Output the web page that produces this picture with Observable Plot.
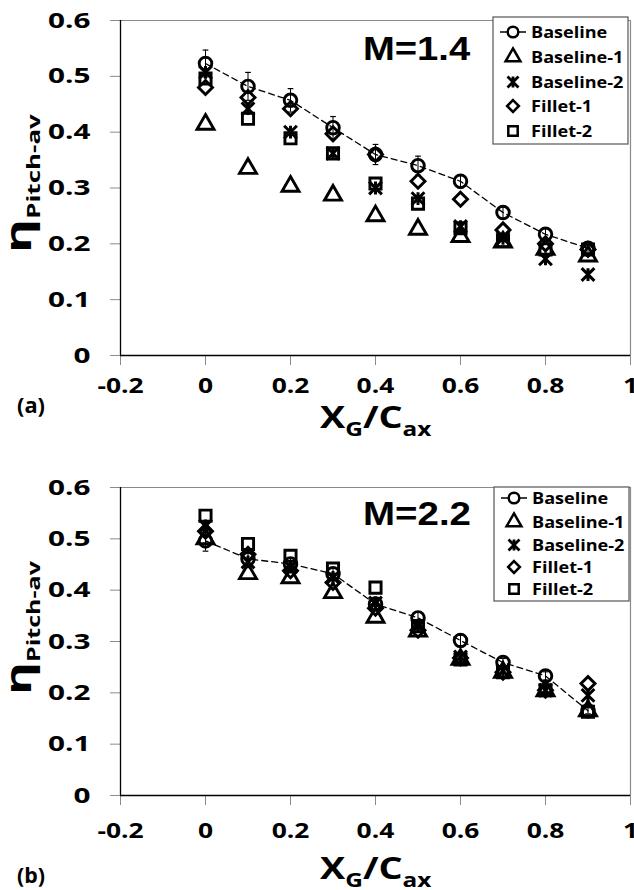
<!DOCTYPE html>
<html><head><meta charset="utf-8">
<script src="https://cdn.jsdelivr.net/npm/d3@7"></script>
<script src="https://cdn.jsdelivr.net/npm/@observablehq/plot@0.6"></script>
<style>
body{margin:0;background:#fff;}
#fig{position:relative;width:634px;height:890px;overflow:hidden;background:#fff;}
#fig svg{display:block;}
g[aria-label="x-axis tick"], g[aria-label="y-axis tick"]{stroke:#8a8a8a;}
</style></head><body><div id="fig"></div>
<script>
// ---------- data ----------
const xPos = [0, 0.1, 0.2, 0.3, 0.4, 0.5, 0.6, 0.7, 0.8, 0.9];
const seriesNames = ["Baseline", "Baseline-1", "Baseline-2", "Fillet-1", "Fillet-2"];
const xTicks = [-0.2, 0, 0.2, 0.4, 0.6, 0.8, 1];
const yTicks = [0, 0.1, 0.2, 0.3, 0.4, 0.5, 0.6];

// (a) M = 1.4
const baselineM14  = [0.523, 0.482, 0.457, 0.408, 0.360, 0.340, 0.312, 0.256, 0.217, 0.192];
const baselineErrM14 = [0.024, 0.025, 0.021, 0.020, 0.018, 0.017, 0.012, 0.010, 0.010, 0.008];
const baseline1M14 = [0.414, 0.335, 0.303, 0.287, 0.250, 0.226, 0.213, 0.203, 0.190, 0.178];
const baseline2M14 = [0.507, 0.442, 0.400, 0.362, 0.300, 0.281, 0.231, 0.210, 0.173, 0.145];
const fillet1M14   = [0.480, 0.462, 0.442, 0.397, 0.360, 0.312, 0.280, 0.225, 0.200, 0.190];
const fillet2M14   = [0.496, 0.424, 0.389, 0.362, 0.308, 0.272, 0.228, 0.205, 0.190, 0.190];

// (b) M = 2.2
const baselineM22  = [0.496, 0.461, 0.451, 0.432, 0.373, 0.346, 0.302, 0.259, 0.233, 0.165];
const baselineErrM22 = [0.020, 0.015, 0.012, 0.012, 0.010, 0.012, 0.010, 0.008, 0.008, 0.006];
const baseline1M22 = [0.500, 0.432, 0.424, 0.395, 0.347, 0.320, 0.265, 0.240, 0.204, 0.165];
const baseline2M22 = [0.525, 0.455, 0.445, 0.425, 0.375, 0.330, 0.270, 0.243, 0.205, 0.195];
const fillet1M22   = [0.515, 0.470, 0.438, 0.415, 0.365, 0.322, 0.268, 0.240, 0.205, 0.218];
const fillet2M22   = [0.545, 0.490, 0.467, 0.442, 0.405, 0.330, 0.265, 0.240, 0.205, 0.163];

// ---------- helpers ----------
const SVGNS = "http://www.w3.org/2000/svg";
const fmt = d => d === 0 ? "0" : d === 1 ? "1" : d3.format(".1f")(d).replace("\u2212", "-");
const capSymbol = {draw(ctx, size) { const w = Math.sqrt(size) / 2; ctx.moveTo(-w, 0); ctx.lineTo(w, 0); }};
// Excel-style "star" marker: an X plus a vertical bar
const starSymbol = {draw(ctx, size) {
  const w = Math.sqrt(size) / 2;
  ctx.moveTo(-w, -w); ctx.lineTo(w, w);
  ctx.moveTo(-w, w); ctx.lineTo(w, -w);
  ctx.moveTo(0, -w); ctx.lineTo(0, w);
}};
const symbolRange = [d3.symbolCircle, d3.symbolTriangle, starSymbol, d3.symbolDiamond2, d3.symbolSquare];
const TXT = "'Open Sans', 'DejaVu Sans', sans-serif";

function stretch(t, s, anchor) {
  const b = t.getBBox();
  const ax = anchor === "end" ? b.x + b.width : anchor === "start" ? b.x : b.x + b.width / 2;
  const prev = t.getAttribute("transform") || "";
  t.setAttribute("transform", `${prev} translate(${ax},0) scale(${s},1) translate(${-ax},0)`);
}
function stretchTo(t, width, anchor) {
  const b = t.getBBox();
  stretch(t, width / b.width, anchor);
}
function addText(svg, x, y, str, size, family) {
  const t = document.createElementNS(SVGNS, "text");
  t.setAttribute("x", x); t.setAttribute("y", y);
  t.setAttribute("font-family", family); t.setAttribute("font-weight", "700");
  t.setAttribute("font-size", size); t.setAttribute("fill", "#000");
  t.setAttribute("text-anchor", "start");
  t.textContent = str;
  svg.appendChild(t);
  return t;
}
function addSubText(svg, parts, attrs) {
  const t = document.createElementNS(SVGNS, "text");
  for (const k in attrs) t.setAttribute(k, attrs[k]);
  t.setAttribute("font-family", TXT); t.setAttribute("font-weight", "700"); t.setAttribute("fill", "#000");
  t.setAttribute("text-anchor", "start");
  for (const p of parts) {
    const s = document.createElementNS(SVGNS, "tspan");
    s.setAttribute("font-size", p.size);
    if (p.dy) s.setAttribute("dy", p.dy);
    s.textContent = p.text;
    t.appendChild(s);
  }
  svg.appendChild(t);
  return t;
}

function panel(cfg) {
  const rows = [];
  cfg.series.forEach((vals, i) => vals.forEach((v, j) => rows.push({x: xPos[j], y: v, series: seriesNames[i]})));
  const base = cfg.series[0].map((v, j) => ({x: xPos[j], y: v, e: cfg.err[j]}));
  const stars = rows.filter(d => d.series === "Baseline-2");
  return Plot.plot({
    width: 634, height: 445,
    marginLeft: 120, marginRight: 4, marginTop: cfg.mt, marginBottom: cfg.mb,
    style: {fontFamily: TXT, fontSize: "22px", fontWeight: "700", color: "#000", background: "#fff", overflow: "visible"},
    x: {domain: [-0.2, 1], ticks: xTicks, tickFormat: fmt, tickSize: 10, tickPadding: cfg.xpad, label: null},
    y: {domain: [0, 0.6], ticks: yTicks, tickFormat: fmt, tickSize: 10, tickPadding: 20, label: null},
    symbol: {domain: seriesNames, range: symbolRange},
    marks: [
      Plot.ruleY([0.6], {stroke: "#8a8a8a", strokeWidth: 1.2}),
      Plot.ruleX([1], {stroke: "#8a8a8a", strokeWidth: 1.2}),
      Plot.ruleX([-0.2], {stroke: "#000", strokeWidth: 1.3}),
      Plot.ruleY([0], {stroke: "#000", strokeWidth: 1.3}),
      Plot.line(base, {x: "x", y: "y", stroke: "#000", strokeWidth: 1.3, strokeDasharray: "6,4"}),
      Plot.ruleX(base, {x: "x", y1: d => d.y - d.e, y2: d => d.y + d.e, stroke: "#000", strokeWidth: 1}),
      Plot.dot(base, {x: "x", y: d => d.y + d.e, symbol: capSymbol, r: 3.2, stroke: "#000", strokeWidth: 1.2}),
      Plot.dot(base, {x: "x", y: d => d.y - d.e, symbol: capSymbol, r: 3.2, stroke: "#000", strokeWidth: 1.2}),
      Plot.dot(rows.filter(d => d.series !== "Baseline-2"), {x: "x", y: "y", symbol: "series", r: 6.3, stroke: "#000", strokeWidth: 2.9, fill: "none"}),
      Plot.dot(stars, {x: "x", y: "y", symbol: "series", r: 7.2, stroke: "#000", strokeWidth: 3, fill: "none"})
    ]
  });
}

function legend(svg, x0, y0, w, h, rowY) {
  const g = d3.select(svg).append("g");
  g.append("rect").attr("x", x0).attr("y", y0).attr("width", w).attr("height", h)
    .attr("fill", "#fff").attr("stroke", "#555").attr("stroke-width", 1.2);
  const sizes = [5.3, 5.5, 6.2, 5.3, 5.3];
  const sx = x0 + 20;
  seriesNames.forEach((name, i) => {
    const y = rowY[i];
    if (i === 0) g.append("line").attr("x1", sx - 13).attr("x2", sx + 13).attr("y1", y).attr("y2", y)
      .attr("stroke", "#000").attr("stroke-width", 1.5);
    g.append("path").attr("d", d3.symbol(symbolRange[i], Math.PI * sizes[i] * sizes[i])()).attr("transform", `translate(${sx},${y})`)
      .attr("fill", i === 0 ? "#fff" : "none").attr("stroke", "#000").attr("stroke-width", i === 2 ? 2.8 : 2.5);
    const t = addText(g.node(), x0 + 38, y + 6, name, 16, TXT);
    stretch(t, 1.13, "start");
  });
}

function decorate(svg, cfg) {
  svg.querySelectorAll('g[aria-label="y-axis tick label"] text').forEach(t => stretch(t, 1.35, "end"));
  svg.querySelectorAll('g[aria-label="x-axis tick label"] text').forEach(t => stretch(t, 1.2, "middle"));
  const title = addText(svg, 363, cfg.titleY, cfg.title, 33, "'Liberation Sans', Arial, sans-serif");
  stretchTo(title, 108, "start");
  const lab = addText(svg, 17, cfg.labY, cfg.lab, 22, TXT);
  stretchTo(lab, 28, "start");
  const xl = addSubText(svg, [
    {text: "X", size: 31}, {text: "G", size: 20, dy: 8}, {text: "/", size: 31, dy: -8},
    {text: "C", size: 31}, {text: "ax", size: 20, dy: 8}
  ], {x: 320, y: cfg.xlY});
  stretchTo(xl, 112, "start");
  const yl = addSubText(svg, [{text: "\u03b7", size: 36}, {text: "Pitch-av", size: 18, dy: 9}],
    {x: 0, y: 0, transform: `translate(${cfg.ylX},${cfg.ylY}) rotate(-90)`});
  stretchTo(yl, cfg.ylLen, "start");
  legend(svg, cfg.lg[0], cfg.lg[1], cfg.lg[2], cfg.lg[3], cfg.lgRows);
}

(function () {
  const fig = document.getElementById("fig");
  const svgA = panel({series: [baselineM14, baseline1M14, baseline2M14, fillet1M14, fillet2M14], err: baselineErrM14, mt: 20, mb: 90, xpad: 12});
  fig.appendChild(svgA);
  decorate(svgA, {title: "M=1.4", titleY: 60, lab: "(a)", labY: 413, xlY: 428, ylX: 31, ylY: 253, ylLen: 140,
    lg: [493, 17, 135, 127], lgRows: [32, 57, 82, 106, 131]});
  const svgB = panel({series: [baselineM22, baseline1M22, baseline2M22, fillet1M22, fillet2M22], err: baselineErrM22, mt: 42, mb: 95, xpad: 17});
  fig.appendChild(svgB);
  decorate(svgB, {title: "M=2.2", titleY: 80, lab: "(b)", labY: 438, xlY: 434, ylX: 31, ylY: 250, ylLen: 135,
    lg: [494, 42, 135, 114], lgRows: [53, 77, 100, 122, 144]});
})();
</script>
</body></html>
